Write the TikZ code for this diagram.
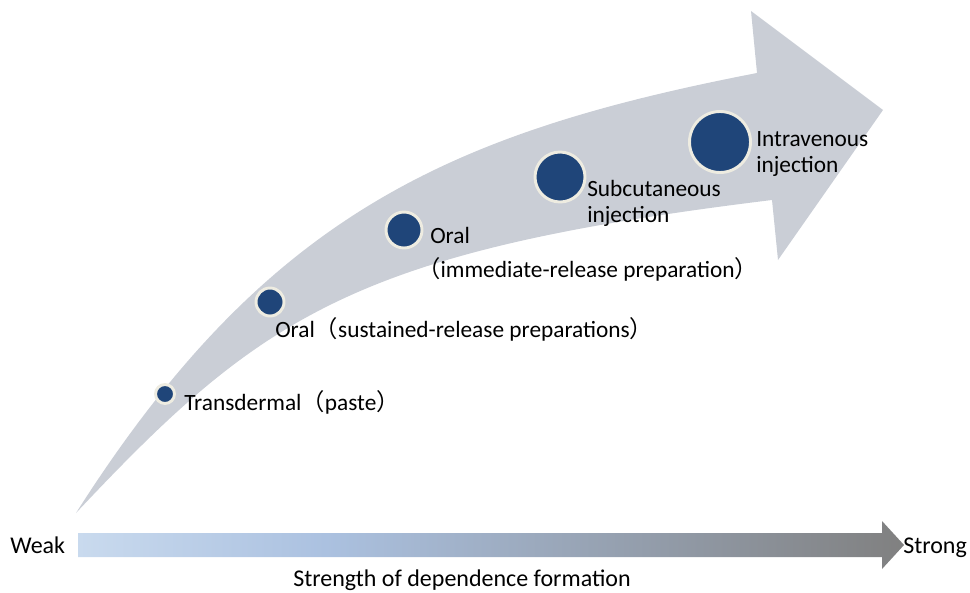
\documentclass[tikz,border=0pt]{standalone}
\usepackage{fontspec}
\setmainfont{Carlito}
\newfontfamily\cjk{Noto Sans CJK SC}
\usetikzlibrary{shapes.geometric, arrows, positioning}

\definecolor{bandgray}{RGB}{202,206,214}
\definecolor{dotblue}{RGB}{31,69,121}
\definecolor{ringcream}{RGB}{238,236,225}
\definecolor{weakblue}{RGB}{201,218,238}
\definecolor{midblue}{RGB}{171,193,224}
\definecolor{stronggray}{RGB}{128,128,128}
\pgfdeclarehorizontalshading{dependence}{100bp}{color(0bp)=(weakblue); color(25bp)=(weakblue);
  color(40bp)=(midblue); color(75bp)=(stronggray); color(100bp)=(stronggray)}

\tikzstyle{route} = [circle, draw=ringcream, line width=2.2pt, fill=dotblue, inner sep=0pt]
\tikzstyle{caption} = [anchor=base west, inner sep=0pt, align=left,
font=\fontsize{17.5}{19}\selectfont]
\tikzstyle{axislabel} = [inner sep=0pt, font=\fontsize{18}{20}\selectfont]

% full-width brackets
\newcommand{\fwopen}{{\cjk （}}
\newcommand{\fwclose}{{\cjk ）}}

\begin{document}
\begin{tikzpicture}[x=0.75pt, y=-0.75pt]
        \useasboundingbox (0,0) rectangle (970,592);
        % curved arrow behind the routes
        \fill[bandgray] (76,513) .. controls (265,216) and (447,133) .. (757,73)
            -- (751,11) -- (883,110) -- (778,260) -- (772,200)
            .. controls (355,251) and (262,315) .. (76,513) -- cycle;

        \node (trans) [route, minimum size=14.25pt] at (165,394) {};
        \node (oralsr) [route, minimum size=21pt] at (270,302) {};
        \node (oralir) [route, minimum size=27pt] at (404,230) {};
        \node (subcut) [route, minimum size=37.5pt] at (560,177) {};
        \node (iv) [route, minimum size=45.75pt] at (720,142) {};

        % labels sit on the baseline of their last line
        \node (transtext) [caption] at (184,410) {Transdermal\fwopen paste\fwclose};
        \node (oralsrtext) [caption] at (275,337) {Oral\fwopen sustained-release preparations\fwclose};
        \node (oralirtext) [caption] at (430,243) {Oral};
        \node (irtext) [caption] at (417,277) {\fwopen immediate-release preparation\fwclose};
        \node (subcuttext) [caption] at (587,222) {Subcutaneous\\injection};
        \node (ivtext) [caption] at (756,172) {Intravenous\\injection};

        % strength axis
        \coordinate (weakend) at (78,545);
        \coordinate (strongtip) at (904,545);
        \shade[shading=dependence] (78,533) -- (882,533) -- (882,521) -- (strongtip)
            -- (882,569) -- (882,557) -- (78,557) -- cycle;
        \node (weak) [axislabel, anchor=base west] at (10,553) {Weak};
        \node (strong) [axislabel, anchor=base west] at (903,553) {Strong};
        \node (axistitle) [axislabel, anchor=base] at (462,586) {Strength of dependence formation};
\end{tikzpicture}
\end{document}
